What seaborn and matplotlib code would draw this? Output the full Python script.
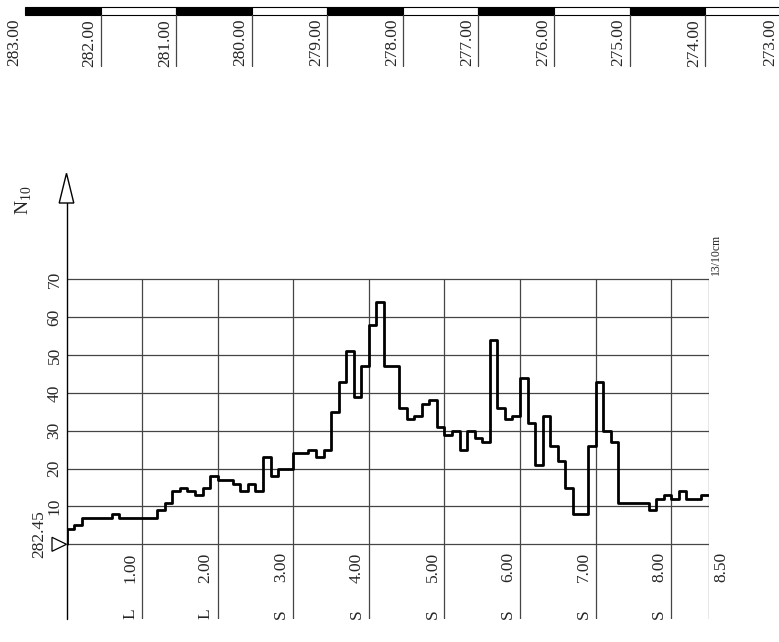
import numpy as np
import pandas as pd
import matplotlib
matplotlib.use("Agg")
import matplotlib.pyplot as plt
from matplotlib.patches import Rectangle, Polygon
from matplotlib.transforms import ScaledTranslation
import seaborn as sns

# ---------------- data ----------------
step_m = 0.1
n10 = [4, 5, 7, 7, 7, 7, 8, 7, 7, 7, 7, 7, 9, 11, 14, 15, 14, 13, 15, 18,
       17, 17, 16, 14, 16, 14, 23, 18, 20, 20, 24, 24, 25, 23, 25, 35, 43, 51, 39, 47,
       58, 64, 47, 47, 36, 33, 34, 37, 38, 31, 29, 30, 25, 30, 28, 27, 54, 36, 33, 34,
       44, 32, 21, 34, 26, 22, 15, 8, 8, 26, 43, 30, 27, 11, 11, 11, 11, 9, 12, 13,
       12, 14, 12, 12, 13]
ground_level = 282.45
max_depth = 8.5
depth_ticks = [1, 2, 3, 4, 5, 6, 7, 8]
soil_codes = ["L", "L", "S", "S", "S", "S", "S", "S"]
n_ticks = [10, 20, 30, 40, 50, 60, 70]
elev_ticks = [283, 282, 281, 280, 279, 278, 277, 276, 275, 274, 273]
unit_label = "13/10cm"
y_label = r"$\mathrm{N}_{10}$"

# ---------------- style ----------------
sns.set_style("white")
plt.rcParams['font.family'] = ['Liberation Serif', 'DejaVu Serif']
plt.rcParams['mathtext.fontset'] = 'custom'
plt.rcParams['mathtext.rm'] = 'Liberation Serif'

W_PX, H_PX = 779, 642
fig = plt.figure(figsize=(W_PX / 100, H_PX / 100), dpi=100)

def off(dx, dy):
    # offset in pixels (dy positive = down on screen)
    return ScaledTranslation(dx / 100, -dy / 100, fig.dpi_scale_trans)

# main axes geometry (pixels)
left_px, right_px = 66.5, 709.0
zero_px, top70_px = 544.3, 279.3
bottom_px, tip_px = 619.0, 173.3
ypx_per_unit = (zero_px - top70_px) / 70.0
ybot = -(bottom_px - zero_px) / ypx_per_unit
ytop = (zero_px - tip_px) / ypx_per_unit

ax = fig.add_axes([left_px / W_PX, (H_PX - bottom_px) / H_PX,
                   (right_px - left_px) / W_PX, (bottom_px - tip_px) / H_PX])

grid_c = '#454545'
grid_lw = 0.9
for v in n_ticks:
    ax.plot([0, max_depth], [v, v], color=grid_c, lw=grid_lw, zorder=1)
ax.plot([0, max_depth], [0, 0], color=grid_c, lw=grid_lw, zorder=1)
for d in depth_ticks + [max_depth]:
    ax.plot([d, d], [ybot, n_ticks[-1]], color=grid_c, lw=grid_lw, zorder=1)

xpx_per_m = (right_px - left_px) / max_depth
arrow_base = (zero_px - 203.0) / ypx_per_unit
ax.plot([0, 0], [ybot, arrow_base], color='black', lw=1.0, zorder=2, clip_on=False)
hw = 7.3 / xpx_per_m
ax.add_patch(Polygon([(-hw, arrow_base), (hw, arrow_base), (0, ytop)], closed=True,
                     fc='white', ec='black', lw=1.0, clip_on=False, zorder=3))
# ground level triangle
tw = 14.5 / xpx_per_m
th = 7.0 / ypx_per_unit
ax.add_patch(Polygon([(-tw, th), (-tw, -th), (0, 0)], closed=True,
                     fc='white', ec='black', lw=0.9, clip_on=False, zorder=3))

# step curve
depth_top = np.round(np.arange(len(n10)) * step_m, 2)
df = pd.DataFrame({
    'depth': np.concatenate([[0.0], depth_top, [max_depth]]),
    'n10': np.concatenate([[0], n10, [n10[-1]]]),
})
sns.lineplot(data=df, x='depth', y='n10', ax=ax, estimator=None, sort=False,
             drawstyle='steps-post', color='black', lw=2.0, zorder=4)
ax.set_xlim(0, max_depth)
ax.set_ylim(ybot, ytop)
ax.axis('off')

fs = 12.5
for v in n_ticks:
    ax.text(0, v, f"{v}", rotation=90, ha='right', va='center', fontsize=fs,
            transform=ax.transData + off(-4, 0))
ax.text(0, 0, f"{ground_level:.2f}", rotation=90, ha='right', va='bottom', fontsize=fs,
        transform=ax.transData + off(-19, 14))
for d, code in zip(depth_ticks, soil_codes):
    ax.text(d, 0, f"{d:.2f}", rotation=90, ha='right', va='top', fontsize=fs,
            transform=ax.transData + off(-4, 8))
    ax.text(d, ybot, code, rotation=90, ha='right', va='bottom', fontsize=fs,
            transform=ax.transData + off(-4, 0))
ax.text(max_depth, 0, f"{max_depth:.2f}", rotation=90, ha='left', va='top', fontsize=fs,
        transform=ax.transData + off(4, 8))
ax.text(0, ytop, y_label, rotation=90, ha='center', va='center', fontsize=14,
        transform=ax.transData + off(-43, 27))
ax.text(max_depth, n_ticks[-1], unit_label, rotation=90, ha='left', va='bottom', fontsize=8.5,
        transform=ax.transData + off(1, -4))

# ---------------- top elevation scale ----------------
top_h = 75
tax = fig.add_axes([left_px / W_PX, 1 - top_h / H_PX, (right_px - left_px) / W_PX, top_h / H_PX])
tax.set_xlim(0, max_depth)
tax.set_ylim(top_h, 0)
tax.axis('off')
for i in range(len(elev_ticks) - 1):
    d0 = ground_level - elev_ticks[i]
    d1 = ground_level - elev_ticks[i + 1]
    tax.add_patch(Rectangle((d0, 7), d1 - d0, 8, fc='black' if i % 2 == 0 else 'white',
                            ec='black', lw=0.8, clip_on=False))
for e in elev_ticks[1:-1]:
    d = ground_level - e
    tax.plot([d, d], [15, 66], color=grid_c, lw=grid_lw, clip_on=False)
for e in elev_ticks:
    d = ground_level - e
    tax.text(d, 19, f"{e:.2f}", rotation=90, ha='right', va='top', fontsize=fs,
             transform=tax.transData + off(-3, 0), clip_on=False)

fig.savefig("out.png", dpi=100)
